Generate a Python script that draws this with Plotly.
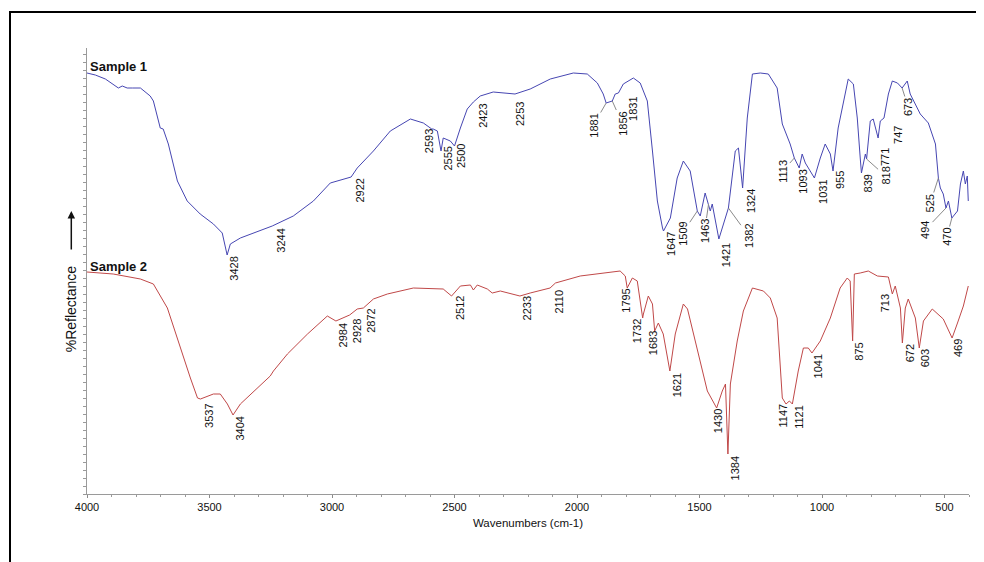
import numpy as np
import plotly.graph_objects as go

# ---------------- data (wavenumber, relative reflectance) ----------------
wn1 = [4000, 3966, 3925, 3893, 3872, 3856, 3836, 3815, 3782, 3742, 3729, 3701, 3689, 3668,
       3631, 3591, 3538, 3484, 3448, 3428, 3415, 3374, 3321, 3244, 3158, 3076, 3007, 2922,
       2897, 2831, 2762, 2680, 2627, 2593, 2587, 2570, 2555, 2546, 2517, 2500, 2476, 2448,
       2423, 2395, 2342, 2253, 2191, 2109, 2015, 1958, 1917, 1893, 1881, 1856, 1844, 1831,
       1811, 1770, 1742, 1713, 1692, 1672, 1651, 1647, 1619, 1591, 1566, 1538, 1509, 1497,
       1477, 1463, 1456, 1448, 1421, 1382, 1374, 1354, 1341, 1333, 1324, 1305, 1284, 1252,
       1219, 1183, 1162, 1130, 1113, 1093, 1081, 1068, 1031, 1007, 987, 966, 955, 934, 913,
       893, 872, 856, 844, 839, 823, 818, 803, 791, 771, 762, 747, 729, 713, 692, 673, 652,
       640, 599, 566, 537, 525, 517, 505, 494, 484, 470, 447, 435, 423, 415, 407, 403]
r1 = [421, 419, 415, 410, 406, 408, 406, 406, 406, 398, 393, 366, 365, 350,
      313, 293, 280, 270, 261, 239, 250, 256, 261, 268, 278, 293, 311, 317,
      326, 343, 363, 375, 371, 365, 365, 363, 343, 356, 353, 348, 366, 385,
      392, 398, 402, 400, 405, 415, 421, 420, 411, 400, 391, 393, 400, 401,
      410, 416, 411, 393, 343, 293, 266, 263, 276, 316, 333, 323, 283, 278,
      301, 290, 283, 290, 255, 286, 303, 343, 346, 330, 306, 376, 420, 421,
      420, 406, 370, 350, 336, 326, 340, 331, 316, 336, 350, 340, 323, 366, 393,
      415, 410, 376, 336, 321, 340, 335, 373, 375, 356, 373, 376, 400, 413, 411, 406, 413,
      400, 380, 371, 350, 316, 306, 300, 286, 293, 276, 283, 310, 323, 310, 318, 293]

wn2 = [4000, 3893, 3782, 3729, 3672, 3619, 3578, 3549, 3537, 3484, 3456, 3427, 3404, 3374,
       3305, 3252, 3239, 3182, 3100, 3019, 2984, 2953, 2928, 2897, 2872, 2831, 2774, 2668,
       2546, 2512, 2476, 2435, 2423, 2407, 2366, 2346, 2313, 2233, 2191, 2110, 2088, 1987,
       1824, 1803, 1795, 1774, 1754, 1732, 1729, 1709, 1692, 1683, 1668, 1648, 1621, 1599,
       1566, 1549, 1509, 1468, 1430, 1407, 1394, 1384, 1374, 1346, 1321, 1284, 1239, 1211,
       1183, 1162, 1147, 1133, 1121, 1097, 1076, 1056, 1041, 1007, 966, 926, 897, 885, 875,
       868, 844, 811, 774, 729, 713, 701, 680, 672, 660, 648, 619, 603, 586, 550, 505, 469,
       447, 423, 403]
r2 = [222, 220, 215, 210, 186, 146, 116, 96, 95, 100, 100, 90, 79, 90,
      106, 118, 123, 140, 160, 178, 173, 176, 179, 185, 186, 195, 200, 206,
      205, 198, 208, 209, 204, 209, 205, 201, 203, 198, 201, 206, 211, 218,
      223, 218, 206, 216, 213, 176, 180, 198, 190, 163, 171, 160, 123, 160,
      190, 185, 143, 103, 86, 103, 110, 40, 110, 153, 183, 206, 203, 196,
      176, 96, 90, 93, 90, 123, 146, 146, 141, 153, 176, 206, 216, 213, 153,
      220, 221, 223, 218, 217, 200, 208, 186, 151, 186, 195, 176, 146, 173, 185, 175, 156,
      171, 188, 208]

peaks1 = [3428, 3244, 2922, 2593, 2555, 2500, 2423, 2253, 1881, 1856, 1831, 1647, 1509,
          1463, 1421, 1382, 1324, 1113, 1093, 1031, 955, 839, 818, 771, 747, 673, 525,
          494, 470]
peaks2 = [3537, 3404, 2984, 2928, 2872, 2512, 2233, 2110, 1795, 1732, 1683, 1621, 1430,
          1384, 1147, 1121, 1041, 875, 713, 672, 603, 469]

x_ticks = [4000, 3500, 3000, 2500, 2000, 1500, 1000, 500]

# label placement (pixel offsets from the peak point, leader line flag)
place1 = [(6, 13.5, 0), (8, 14.5, 0), (8, 13.5, 0), (-3, 12.5, 1), (6, 7.5, 0), (6, 10.5, 0),
          (9, 13.5, 0), (5, 20, 0), (-13, 22.5, 1), (10, 22.5, 1), (14, 15.5, 0), (7, 12.5, 0),
          (-15, 22.5, 1), (-4, 27.5, 1), (7, 16.5, 0), (20, 27.5, 1), (8, 13.5, 0),
          (-12, 13.5, 1), (3, 13.5, 0), (8, 13.5, 0), (7, 9, 0), (7, 10, 0), (19, 17, 1),
          (7, 19, 0), (14, 17, 1), (6, 19, 1), (-8, 25, 1), (-21, 22, 1), (-5, 19, 1)]
place2 = [(8, 16.5, 0), (6, 13.5, 0), (7, 14.5, 0), (7, 16.5, 0), (7, 12.5, 0), (8, 12.5, 0),
          (7, 12.5, 0), (8, 13.5, 0), (-2, 12.5, 1), (-6, 13.5, 1), (-2, 12.5, 1), (7, 14.5, 0),
          (1, 13.5, 0), (7, 14.5, 0), (-3, 11.5, 0), (6, 12.5, 0), (6, 13.5, 0), (6, 11, 0),
          (-7, 9, 1), (8, 10, 0), (6, 10, 0), (6, 10, 0)]

BLUE = "#4646b2"
RED = "#c04848"
FONT = "Arial, Liberation Sans, sans-serif"

fig = go.Figure()
fig.add_trace(go.Scatter(x=wn1, y=r1, mode="lines", line=dict(color=BLUE, width=1),
                         name="Sample 1", showlegend=False))
fig.add_trace(go.Scatter(x=wn2, y=r2, mode="lines", line=dict(color=RED, width=1),
                         name="Sample 2", showlegend=False))

annotations = []


def add_peak_labels(wn, r, peaks, place):
    xs = np.array(wn[::-1], dtype=float)
    ys = np.array(r[::-1], dtype=float)
    for p, (ax, ay, lead) in zip(peaks, place):
        yv = float(np.interp(p, xs, ys))
        annotations.append(dict(
            x=p, y=yv, xref="x", yref="y", text=str(p), textangle=-90,
            showarrow=True, ax=ax, ay=ay, arrowhead=0, arrowwidth=1, standoff=0,
            arrowcolor="#8a8a8a" if lead else "rgba(0,0,0,0)",
            font=dict(family=FONT, size=11, color="#111111")))


add_peak_labels(wn1, r1, peaks1, place1)
add_peak_labels(wn2, r2, peaks2, place2)

annotations += [
    dict(x=0, y=0.9596, xref="paper", yref="paper", text="<b>Sample 1</b>", showarrow=False,
         xanchor="left", yanchor="middle", xshift=1, font=dict(family=FONT, size=13, color="#111")),
    dict(x=0, y=0.511, xref="paper", yref="paper", text="<b>Sample 2</b>", showarrow=False,
         xanchor="left", yanchor="middle", xshift=1, font=dict(family=FONT, size=13, color="#111")),
    dict(x=-0.0178, y=0.4148, xref="paper", yref="paper", text="%Reflectance", showarrow=False,
         textangle=-90, xanchor="center", yanchor="middle",
         font=dict(family=FONT, size=14, color="#111")),
    dict(x=-0.0178, y=0.6345, xref="paper", yref="paper", text="", showarrow=True,
         ax=0, ay=40, arrowhead=2, arrowsize=1, arrowwidth=1.5, arrowcolor="#111"),
]

# the page body adds an 8px margin, so the figure is 8px smaller and shifted accordingly
fig.update_layout(
    width=976, height=554, autosize=False,
    margin=dict(l=79, r=15, t=40, b=68),
    paper_bgcolor="white", plot_bgcolor="white",
    annotations=annotations,
    shapes=[dict(type="rect", xref="paper", yref="paper", x0=-0.0873, x1=1.08,
                 y0=-0.2, y1=1.0807, line=dict(color="black", width=2))],
    xaxis=dict(range=[4000, 400], tickvals=x_ticks, ticktext=[str(v) for v in x_ticks],
               showgrid=False, zeroline=False, showline=True, linecolor="#9a9a9a", linewidth=1,
               ticks="outside", ticklen=3, tickcolor="#8a8a8a",
               minor=dict(dtick=100, tick0=0, ticks="outside", ticklen=2, tickcolor="#9a9a9a"),
               tickfont=dict(family=FONT, size=11, color="#111"),
               title=dict(text="Wavenumbers (cm-1)", standoff=6,
                          font=dict(family=FONT, size=11.5, color="#111"))),
    yaxis=dict(range=[0, 446], showgrid=False, zeroline=False, showline=True,
               linecolor="#9a9a9a", linewidth=1, ticks="outside", ticklen=3, tick0=0, dtick=8,
               tickcolor="#9a9a9a", showticklabels=False),
)

fig.write_html("out.html")
